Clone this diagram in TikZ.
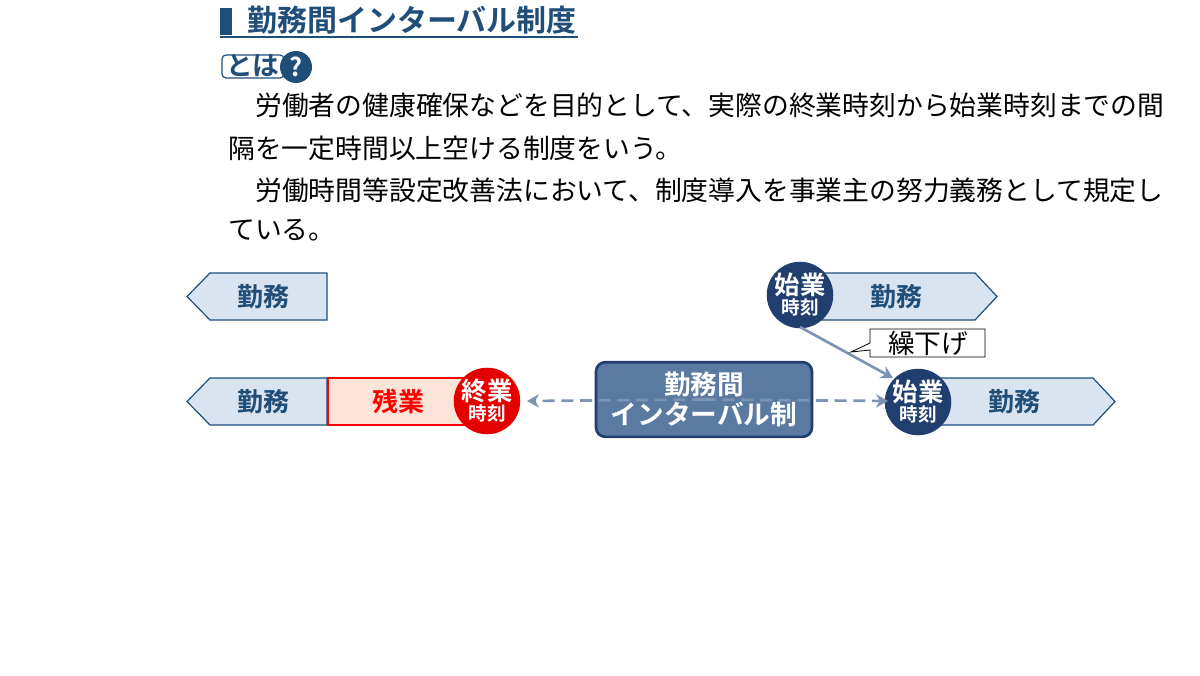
\documentclass[tikz,border=0pt]{standalone}
\usepackage{fontspec}
\setmainfont{Noto Sans CJK JP}
\newfontfamily\jpb{Noto Sans CJK JP Bold}
\usetikzlibrary{arrows.meta}
\definecolor{navy}{HTML}{1F4E79}
\definecolor{dnavy}{HTML}{203F6E}
\definecolor{pale}{HTML}{DAE3F0}
\definecolor{midb}{HTML}{5A7AA2}
\definecolor{arr}{HTML}{7D93B4}
\definecolor{pink}{HTML}{FCE5D8}
\tikzset{
 work/.style={draw=navy,fill=pale,line width=0.9pt},
 lbl/.style={font=\jpb\fontsize{19.5}{19.5}\selectfont,text=navy},
 circ/.style={circle,fill=dnavy,minimum size=49.5pt,inner sep=0pt,align=center,text=white,font=\jpb\fontsize{19}{19}\selectfont},
 body/.style={anchor=west,font=\fontsize{20.1}{20.1}\selectfont,inner sep=0pt}
}
\begin{document}
\begin{tikzpicture}[x=0.75pt,y=-0.75pt]
\useasboundingbox (0,0) rectangle (1200,675);
% title
\fill[navy] (220,8) rectangle (232,35);
\node[anchor=west,inner sep=0pt,font=\jpb\fontsize{22.5}{22.5}\selectfont,text=navy] (title) at (247,20) {勤務間インターバル制度};
\draw[navy,line width=1.2pt] (220,37) -- (578,37);
% とは?
\draw[navy,line width=0.9pt,rounded corners=3pt] (222,55) rectangle (284,78);
\node[anchor=west,inner sep=0pt,font=\jpb\fontsize{20}{20}\selectfont,text=navy] (toha) at (226,66) {とは};
\node[circle,fill=navy,minimum size=24pt,inner sep=0pt,text=white,font=\jpb\fontsize{19}{19}\selectfont] (q) at (296,67) {?};
% body
\node[body] (l1) at (255,105) {労働者の健康確保などを目的として、実際の終業時刻から始業時刻までの間};
\node[body] (l2) at (228,148) {隔を一定時間以上空ける制度をいう。};
\node[body] (l3) at (255,190) {労働時間等設定改善法において、制度導入を事業主の努力義務として規定し};
\node[body] (l4) at (228,230) {ている。};
% left shapes
\draw[work] (187,296.5) -- (210,273) -- (327,273) -- (327,320) -- (210,320) -- cycle;
\node[lbl] (w1) at (263,296.5) {勤務};
\draw[work] (187,401.5) -- (210,378) -- (327,378) -- (327,425) -- (210,425) -- cycle;
\node[lbl] (w2) at (263,401.5) {勤務};
\draw[red,fill=pink,line width=0.9pt] (328,378) rectangle (475,425);
\node[lbl,text=red] (zan) at (398,401.5) {残業};
\node[circ,fill=red!90!black] (end) at (487,401) {終業\\[-4pt]{\fontsize{14}{14}\selectfont 時刻}};
% right shapes
\draw[work] (800,273) -- (975,273) -- (997,296.5) -- (975,320) -- (800,320) -- cycle;
\node[lbl] (w3) at (896,296.5) {勤務};
\node[circ] (s1) at (800,295) {始業\\[-4pt]{\fontsize{14}{14}\selectfont 時刻}};
\draw[work] (918,378) -- (1093,378) -- (1115,401.5) -- (1093,425) -- (918,425) -- cycle;
\node[lbl] (w4) at (1014,401.5) {勤務};
\node[circ] (s2) at (918,402) {始業\\[-4pt]{\fontsize{14}{14}\selectfont 時刻}};
% interval box
\node[draw=dnavy,fill=midb,line width=2pt,rounded corners=7pt,minimum width=162pt,minimum height=56pt,align=center,text=white,font=\jpb\fontsize{20}{23}\selectfont] (box) at (704,399.5) {勤務間\\インターバル制};
\coordinate (la) at (527,401);
\coordinate (ra) at (888,401);
\draw[arr,line width=2pt,dash pattern=on 9pt off 5pt,-{Stealth[length=9pt,width=10pt]}] (box.center) -- (la);
\draw[arr,line width=2pt,dash pattern=on 9pt off 5pt,-{Stealth[length=9pt,width=10pt]}] (box.center) -- (ra);
% shift arrow
\coordinate (sa) at (800,327);
\coordinate (sb) at (893,378);
\draw[arr,line width=2pt,-{Stealth[length=9pt,width=10pt]}] (sa) -- (sb);
\coordinate (pt) at (851,352);
\draw[black,fill=white,line width=0.6pt] (870,329) -- (985,329) -- (985,357) -- (870,357) -- (870,350) -- (pt) -- (870,343) -- cycle;
\node[font=\fontsize{20}{20}\selectfont] (kuri) at (928,343) {繰下げ};
\end{tikzpicture}
\end{document}
